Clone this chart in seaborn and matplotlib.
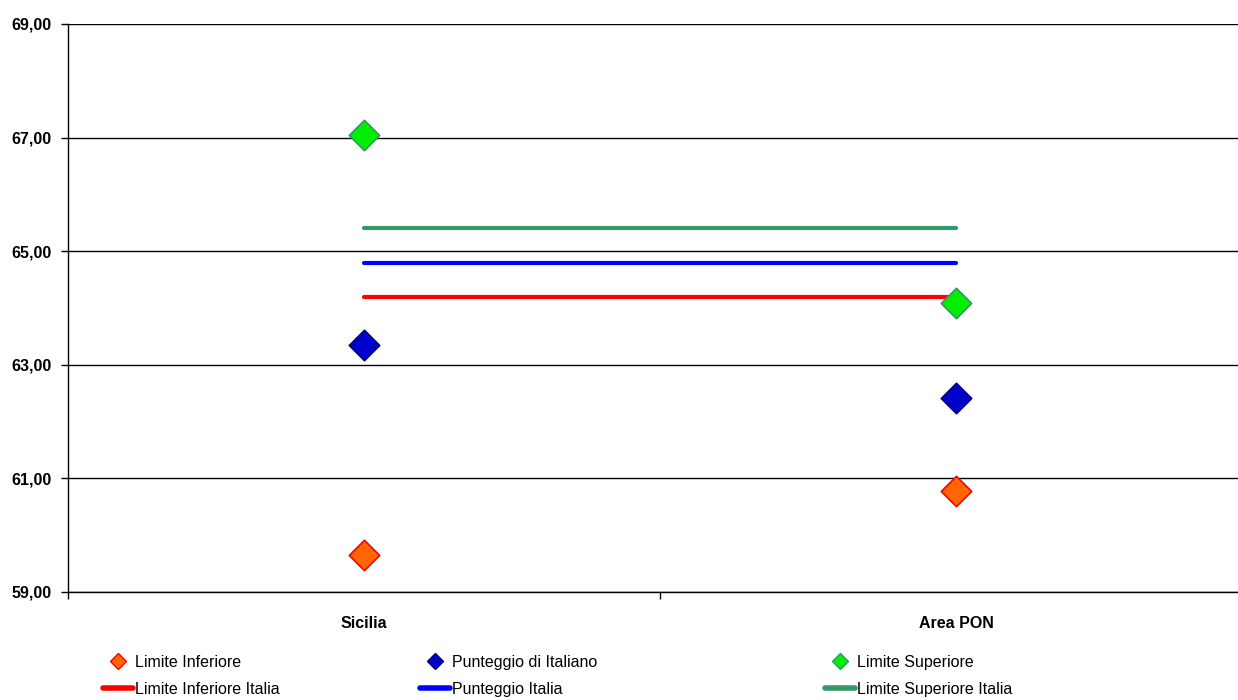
import numpy as np
import pandas as pd
import seaborn as sns
import matplotlib.pyplot as plt
from matplotlib.lines import Line2D

# Data
regioni = ['Sicilia', 'Area PON']
limite_inferiore = [59.65, 60.78]
punteggio = [63.35, 62.42]
limite_superiore = [67.05, 64.09]
# Italy reference values (constant lines)
lim_inf_italia = 64.19
punt_italia = 64.79
lim_sup_italia = 65.41

y_ticks = [59, 61, 63, 65, 67, 69]

sns.set_style('white')
plt.rcParams['font.family'] = ['Liberation Sans', 'DejaVu Sans']
plt.rcParams['text.color'] = 'black'
plt.rcParams['xtick.color'] = 'black'
plt.rcParams['ytick.color'] = 'black'

fig = plt.figure(figsize=(12.38, 7), dpi=100)
ax = fig.add_axes([68 / 1238, 108 / 700, 1184 / 1238, 568 / 700])

pos = np.arange(len(regioni))
df = pd.DataFrame({'x': pos, 'inf': limite_inferiore, 'punt': punteggio, 'sup': limite_superiore})

# Italy lines
for val, col in [(lim_inf_italia, '#FF0000'), (punt_italia, '#0000FF'), (lim_sup_italia, '#339966')]:
    line_df = pd.DataFrame({'x': pos, 'y': [val] * len(pos)})
    sns.lineplot(data=line_df, x='x', y='y', color=col, linewidth=3, ax=ax, zorder=3)

# Diamond markers
for column, face, edge in [('inf', '#FF6600', '#FF0000'),
                           ('punt', '#0000CC', '#000080'),
                           ('sup', '#00EE00', '#339966')]:
    sns.scatterplot(data=df, x='x', y=column, marker='D', s=240, color=face,
                    edgecolor=edge, linewidth=1.2, ax=ax, zorder=4)

ax.set_xlim(-0.5, 1.5)
ax.set_ylim(59, 69)
ax.set_yticks(y_ticks)
ax.set_yticklabels([f'{v:.2f}'.replace('.', ',') for v in y_ticks], fontsize=11.5, fontweight='bold')
ax.yaxis.grid(True, color='black', linewidth=1)
ax.set_axisbelow(True)

ax.set_xticks([-0.5, 0.5, 1.5])
ax.set_xticklabels([])
ax.set_xticks(pos, minor=True)
ax.set_xticklabels(regioni, minor=True, fontsize=11.5, fontweight='bold')
ax.tick_params(axis='x', which='minor', length=0, pad=17)
ax.tick_params(axis='both', which='major', direction='out', length=5, width=1, color='black', bottom=True, left=True)
ax.tick_params(axis='y', pad=7)
ax.set_xlabel('')
ax.set_ylabel('')

for s in ['top', 'right']:
    ax.spines[s].set_visible(False)
for s in ['left', 'bottom']:
    ax.spines[s].set_color('black')
    ax.spines[s].set_linewidth(1)

# Legend: three column groups
groups = [
    (103, [('Limite Inferiore', '#FF6600', '#FF0000'), ('Limite Inferiore Italia', '#FF0000', None)]),
    (420, [('Punteggio di Italiano', '#0000CC', '#000080'), ('Punteggio Italia', '#0000FF', None)]),
    (825, [('Limite Superiore', '#00EE00', '#339966'), ('Limite Superiore Italia', '#339966', None)]),
]
for xpx, items in groups:
    handles = []
    labels = []
    for lab, face, edge in items:
        if edge is not None:
            h = Line2D([], [], linestyle='none', marker='D', markersize=8,
                       markerfacecolor=face, markeredgecolor=edge)
        else:
            h = Line2D([], [], color=face, linewidth=4)
        handles.append(h)
        labels.append(lab)
    fig.legend(handles, labels, loc='upper left', bbox_to_anchor=(xpx / 1238, 1 - 655 / 700),
               frameon=False, fontsize=11.5, handlelength=1.9, handletextpad=0.1,
               labelspacing=0.75, borderpad=0, borderaxespad=0, labelcolor='black')

fig.savefig('out.png', dpi=100)
